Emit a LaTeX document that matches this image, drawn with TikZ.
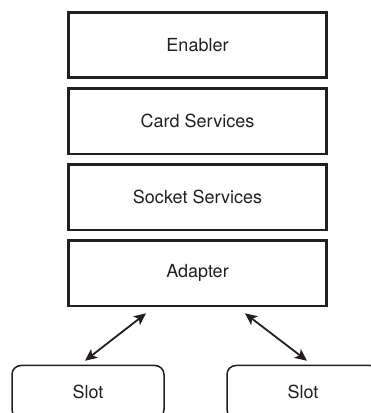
\documentclass[tikz,border=0pt]{standalone}
\usepackage{fontspec}
\setsansfont{TeX Gyre Heros}
\usetikzlibrary{arrows.meta, positioning, calc}
\definecolor{cink}{HTML}{231F20}
\tikzset{
  every picture/.style={font=\sffamily\fontsize{18}{21}\selectfont, x=1pt, y=1pt},
  layer/.style={draw=cink, text=cink, line width=2.6pt, minimum width=258.5pt, minimum height=65.5pt, inner sep=0pt},
  slot/.style={draw=cink, text=cink, rounded corners=9pt, line width=1.5pt, minimum width=152pt, minimum height=53pt},
  link/.style={{Stealth[length=12pt, width=11pt, inset=3pt]}-{Stealth[length=12pt, width=11pt, inset=3pt]}, draw=cink, line width=1.8pt},
}

\begin{document}
\begin{tikzpicture}
  \useasboundingbox (0,0) rectangle (371,413);
  \clip (0,0) rectangle (371,413);
  % software stack
  \node[layer] (enabler) at (197.5,368) {Enabler};
  \node[layer, below=8pt of enabler] (card) {Card Services};
  \node[layer, below=8pt of card] (socket) {Socket Services};
  \node[layer, below=8pt of socket] (adapter) {Adapter};
  % slots
  \node[slot] (slotL) at (88,21) {Slot};
  \node[slot] (slotR) at (303,21) {Slot};
  % links adapter <-> slots
  \coordinate (aL) at ($(adapter.south)+(-51.5,-6)$);
  \coordinate (aR) at ($(adapter.south)+(47.5,-6)$);
  \coordinate (sL) at ($(slotL.north)+(-3,4)$);
  \coordinate (sR) at ($(slotR.north)+(4,4)$);
  \draw[link] (aL) -- (sL);
  \draw[link] (aR) -- (sR);
\end{tikzpicture}
\end{document}
